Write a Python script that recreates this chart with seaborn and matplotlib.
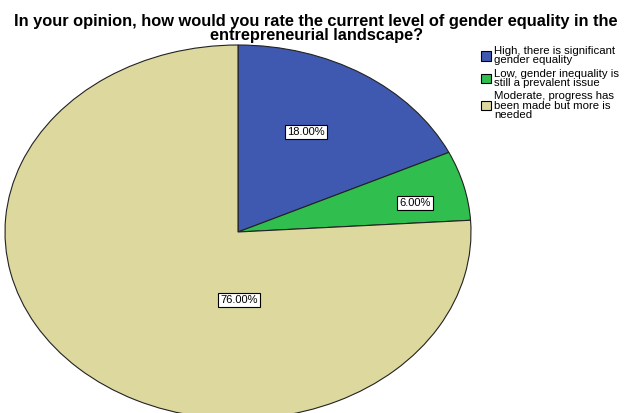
import matplotlib
matplotlib.use("Agg")
import matplotlib.pyplot as plt
import seaborn as sns

# survey answers and shares (%)
labels = ["High, there is significant\ngender equality",
          "Low, gender inequality is\nstill a prevalent issue",
          "Moderate, progress has\nbeen made but more is\nneeded"]
shares = [18.0, 6.0, 76.0]
colors = ["#3f59b1", "#30bf4f", "#ddd89e"]

sns.set_style("white")
plt.rcParams["font.family"] = ["Liberation Sans", "DejaVu Sans"]
plt.rcParams["text.color"] = "black"

fig = plt.figure(figsize=(6.26, 4.13), dpi=100)
# pie is stretched into an ellipse and runs past the bottom edge
ax = fig.add_axes([5 / 626, -6 / 413, 466 / 626, 374 / 413])

wedges, texts, autotexts = ax.pie(
    shares, colors=colors, startangle=90, counterclock=False,
    autopct="%.2f%%", radius=1.0,
    wedgeprops=dict(edgecolor="#222222", linewidth=0.8),
    textprops=dict(fontsize=8, color="black"))

# label spots roughly as in the SPSS output
spots = [(0.29, 0.535), (0.76, 0.155), (0.005, -0.365)]
for t, (x, y) in zip(autotexts, spots):
    t.set_position((x, y))
    t.set_bbox(dict(boxstyle="square,pad=0.2", fc="white", ec="black", lw=0.8))

ax.set_aspect("auto")
ax.set_xlim(-1, 1)
ax.set_ylim(-1, 1)
ax.axis("off")

fig.text(0.505, 0.965,
         "In your opinion, how would you rate the current level of gender equality in the\nentrepreneurial landscape?",
         ha="center", va="top", fontsize=11.8, fontweight="bold", linespacing=0.85,
         color="black")

leg = fig.legend(wedges, labels, loc="upper left", bbox_to_anchor=(0.768, 0.888),
                 frameon=False, fontsize=8.2, handlelength=0.9, handleheight=0.9,
                 handletextpad=0.25, labelspacing=0.3, borderaxespad=0,
                 borderpad=0)
for h in leg.legend_handles:
    h.set_edgecolor("black")
    h.set_linewidth(0.8)
for t in leg.get_texts():
    t.set_linespacing(0.9)
    t.set_color("black")

fig.savefig("out.png", dpi=100)
